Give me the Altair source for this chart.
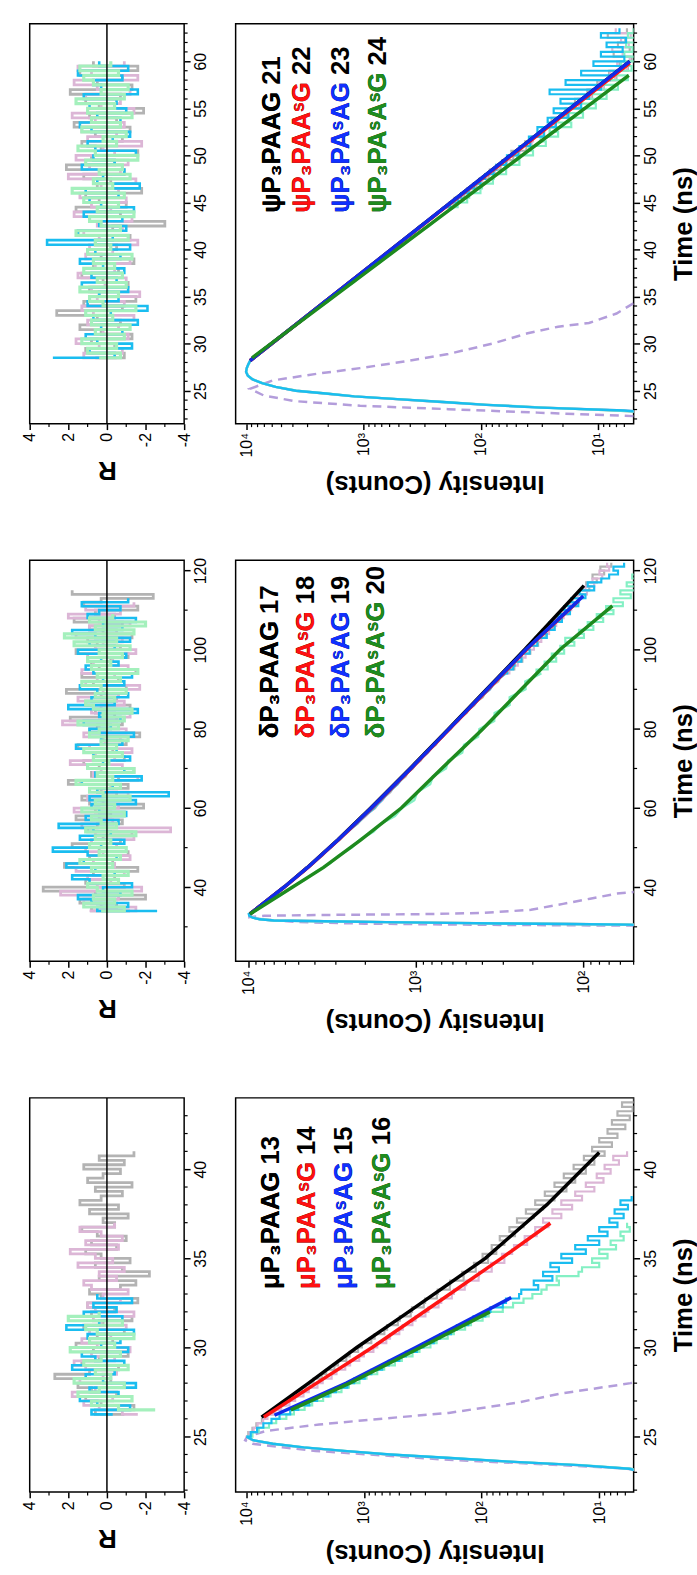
import altair as alt
import pandas as pd

FONT = "Liberation Sans, Arial, DejaVu Sans, sans-serif"
C_GRAY, C_PINK, C_CYAN, C_AQUA, C_MINT = "#b3b3b3", "#dcb6d6", "#1abdf0", "#84f0c4", "#a4f0bc"
C_IRF = "#b39ddb"
FIT_COLORS = ["#000000", "#ff1414", "#0f2bea", "#1e8a1e"]
LEG_COLORS = ["#000000", "#ff1010", "#1030ff", "#1e8c1e"]

# ---------------- psi panel (top) ----------------
psi_rise_t = [22.6, 22.9, 23.2, 23.5, 23.8, 24.1, 24.4, 24.7, 25.0, 25.4, 25.8, 26.2, 26.6, 27.0, 27.4, 27.8, 28.2]
psi_decay_t = [28.5 + i for i in range(17)] + [45.0 + 0.5 * i for i in range(38)]
psi_gray = [3, 7, 28, 88, 215, 530, 1210, 2150, 3800, 5650, 7350, 8850, 9700, 10050, 9900, 9600, 9250,
            8650, 6760, 5450, 4230, 3410, 2640, 2140, 1650, 1340, 1030, 838, 641, 528, 400, 331, 249, 208,
            172, 168, 139, 131, 109, 104, 86, 84, 68, 66, 53, 55, 41, 42, 37, 29, 30, 23, 25, 18.5, 19, 14.5,
            15.8, 11.3, 12.4, 9.0, 10.2, 7.0, 8.1, 5.6, 6.6, 5.2, 7.4, 5.4, 6.8, 5.9, 8.3, 5.7]
psi_pink = [3, 6, 30, 92, 220, 520, 1190, 2120, 3750, 5600, 7300, 8800, 9650, 10000, 9880, 9580, 9230,
            8580, 6850, 5370, 4300, 3360, 2690, 2090, 1690, 1300, 1060, 815, 665, 505, 418, 316, 262, 198,
            186, 155, 147, 123, 117, 97, 92, 76, 74, 60, 58, 47, 46, 37, 36, 30, 29, 23.5, 24, 18, 18.8, 14.6,
            14.8, 11.6, 11.9, 9.1, 9.8, 7.2, 7.9, 5.7, 6.9, 5.4, 6.2, 7.6, 5.5, 6.4, 5.3, 7.1]
psi_cyan = [3, 6, 31, 90, 210, 515, 1200, 2100, 3780, 5620, 7320, 8820, 9680, 10020, 9890, 9590, 9240,
            8640, 6790, 5420, 4250, 3400, 2650, 2130, 1660, 1330, 1040, 832, 648, 522, 404, 328, 252, 205,
            182, 157, 147, 127, 114, 101, 92, 78, 74, 61, 60, 48, 47, 38, 39, 29, 33, 23, 27, 18, 24, 14,
            21, 12, 26, 9.5, 19, 8.0, 14, 6.5, 11, 6.0, 9.5, 6.2, 8.5, 5.8, 9.5, 6.6]
psi_aqua = [3, 7, 29, 86, 205, 510, 1180, 2080, 3700, 5580, 7280, 8780, 9640, 9980, 9860, 9560, 9200,
            8860, 7020, 5400, 4300, 3290, 2630, 2000, 1620, 1220, 990, 745, 604, 455, 370, 277, 226, 169,
            158, 131, 126, 101, 98, 79, 78, 61, 62, 47, 49, 36, 39, 28, 31, 22, 26, 17, 22, 13.5, 18, 10.5,
            14, 8.5, 11, 6.8, 9, 5.6, 7, 5.2, 6.4, 4.9, 6.0, 5.1, 5.8, 4.8, 5.6, 5.0]
psi_irf_t = [22.3, 22.67, 23.04, 23.4, 23.9, 24.5, 25.2, 26.1, 26.8, 27.4, 28.1, 28.9, 30.0, 31.1, 31.8, 32.2, 33.2, 34.3]
psi_irf_v = [5, 33, 190, 1070, 3900, 7100, 9300, 5900, 2500, 1070, 450, 190, 80, 40, 22, 12, 7, 5]
psi_fit_t = [[28.2, 44.0, 60.0], [28.2, 44.0, 59.8], [28.2, 44.0, 60.0], [28.5, 43.5, 58.5]]
psi_fit_v = [[9250, 228, 5.4], [9250, 226, 5.4], [9250, 228, 5.4], [8910, 221, 5.5]]
psi_res_gray = [0.6, -0.9, 1.1, -0.4, 0.8, -1.3, 0.3, 1.4, -0.7, 0.5, 2.6, -0.8, 1.2, -1.5, 0.4, 0.9, -1.1, 0.2,
                1.3, -0.6, 0.7, -1.4, 0.3, 1.0, -0.5, 0.6, -1.2, 1.5, -0.3, -3.0, 0.9, -0.7, 1.6, -1.0, 0.4, 1.1,
                -1.8, 0.5, -0.2, 1.2, -0.9, 2.1, -0.4, 0.8, -1.6, 0.3, 1.3, -0.8, 0.6, -1.2, 1.7, -0.5, 0.9, -1.9,
                0.4, 1.1, -0.7, 1.9, -1.3, 0.5, -0.8, 1.4, -1.6, 0.7]
psi_res_pink = [-0.5, 1.2, -0.8, 0.4, 1.6, -1.1, 0.2, -0.6, 1.0, -1.4, 0.7, 1.3, -0.9, 0.5, -1.7, 0.8, 0.1, -1.0,
                1.5, -0.4, 0.6, -1.2, 1.1, -0.3, 0.9, -1.6, 0.4, 1.2, -0.8, 0.5, -1.3, 1.7, -0.2, 0.8, -1.0, 1.4,
                -0.6, 0.3, -1.5, 2.0, -0.7, 0.9, -1.1, 1.6, -0.4, 0.2, -1.8, 1.0, -0.5, 1.3, -0.9, 0.6, 1.8, -1.4,
                0.3, -0.7, 1.1, -1.2, 0.5, 1.7, -1.6, 0.8, 1.5, -0.9]
psi_res_cyan = [2.8, -0.4, 0.9, -1.3, 0.5, 1.1, -0.8, 0.3, -1.6, 0.7, -0.2, -2.1, 1.0, -0.6, 0.4, -1.1, 1.3, -0.5,
                0.8, -0.9, 0.2, 1.4, -0.7, 0.6, -1.2, 3.1, -0.3, 1.5, -1.0, 0.4, -0.8, 1.2, -1.4, 0.3, 0.9, -0.6,
                1.1, -1.7, 0.5, 0.2, -0.9, 1.3, -0.4, 0.7, -1.5, 0.6, 1.0, -0.3, -1.2, 0.8, 1.4, -0.7, 0.5, -1.0,
                0.9, -0.5, 1.2, -1.6, 0.3, 0.7, -0.8, 1.5, -1.1, 0.4]
psi_res_mint = [0.4, -0.7, 1.0, -0.5, 1.3, -0.9, 0.6, -1.2, 0.8, -0.3, 1.1, -1.5, 0.2, 0.9, -0.6, 1.4, -1.0, 0.5,
                -0.8, 1.2, -0.4, 0.7, -1.3, 1.0, -0.2, 0.6, -1.1, 1.6, -0.7, 0.3, 0.9, -1.4, 0.5, -0.6, 1.2, -0.9,
                1.8, -0.3, 0.7, -1.2, 0.4, -0.8, 1.1, -1.6, 0.6, 1.5, -0.5, 0.2, -1.0, 1.3, -0.7, 0.8, -1.3, 1.0,
                -0.4, 1.6, -0.9, 0.3, -1.1, 0.7, 1.2, -0.6, 1.4, -0.2]
psi_leg_full = ["ψP₃PAAG 21", "ψP₃PAAˢG 22", "ψP₃PAˢAG 23", "ψP₃PAˢAˢG 24"]
psi_leg_prefix = ["ψP₃PAAG", "ψP₃PAAˢG", "ψP₃PAˢAG", "ψP₃PAˢAˢG"]
psi_leg_I = [6030, 3310, 1550, 748]
psi_leg_t = 43.9

# ---------------- delta panel (middle) ----------------
del_rise_t = [30.2, 30.4, 30.55, 30.7, 30.85, 31.0, 31.2, 31.4, 31.6, 31.9, 32.3, 32.8, 33.25]
del_decay_t = [34 + 2 * i for i in range(31)] + [95 + i for i in range(28)]
del_gray = [35, 42, 52, 120, 300, 630, 1500, 3500, 7000, 8500, 9400, 9850, 9900,
            9330, 8040, 7110, 6090, 5400, 4640, 4150, 3610, 3270, 2840, 2590, 2230, 2030, 1750, 1620, 1420,
            1320, 1150, 1080, 935, 878, 758, 712, 618, 578, 497, 468, 398, 376, 322, 305,
            288, 258, 260, 231, 233, 207, 210, 186, 191, 168, 172, 152, 157, 137, 142, 124, 129, 111, 116,
            101, 106, 92, 96, 83, 88, 75, 79, 68]
del_pink = [34, 41, 50, 115, 290, 610, 1480, 3450, 6900, 8450, 9350, 9800, 9880,
            9250, 8120, 7020, 6180, 5330, 4700, 4080, 3670, 3220, 2890, 2530, 2270, 1980, 1790, 1580, 1460,
            1280, 1190, 1040, 968, 845, 785, 688, 640, 556, 515, 447, 414, 360, 335, 290,
            276, 270, 246, 244, 221, 218, 197, 197, 178, 179, 160, 162, 145, 147, 131, 133, 118, 120, 106,
            108, 95, 97, 86, 88, 77, 80, 70, 72]
del_cyan = [36, 44, 55, 125, 310, 650, 1520, 3550, 7050, 8550, 9420, 9870, 9920,
            9300, 8100, 7050, 6160, 5350, 4690, 4100, 3660, 3230, 2880, 2560, 2250, 2010, 1780, 1600, 1450,
            1290, 1180, 1050, 960, 850, 780, 695, 635, 560, 512, 450, 412, 362, 333, 292,
            284, 262, 257, 234, 236, 209, 214, 188, 194, 165, 175, 148, 159, 134, 141, 120, 130, 107, 118,
            97, 105, 86, 94, 78, 70, 62, 66, 57]
del_aqua = [35, 43, 51, 118, 295, 620, 1490, 3480, 6950, 8480, 9380, 9830, 9890,
            9100, 7780, 6430, 5510, 4540, 3920, 3260, 2880, 2410, 2160, 1790, 1620, 1330, 1210, 1020, 980,
            820, 790, 660, 640, 528, 515, 424, 417, 340, 338, 275, 275, 221, 222, 178,
            190, 163, 170, 145, 154, 130, 137, 113, 128, 99, 106, 87, 94, 76, 83, 66, 73, 58, 66,
            52, 60, 48, 55, 45, 51, 42, 49, 41]
del_irf_t = [30.0, 30.3, 30.5, 30.8, 31.2, 31.8, 32.4, 32.8, 33.0, 33.2, 33.5, 34.3, 35.8, 37.1, 38.4, 38.8, 39.4]
del_irf_v = [40, 50, 400, 2000, 5000, 8000, 10000, 8000, 3500, 900, 400, 205, 132, 91, 63, 50, 45]
del_fit_t = [[33.25, 40, 45, 52, 60, 70, 80, 90, 100, 116.2], [33.25, 40, 45, 52, 60, 70, 80, 90, 100, 112.3],
             [33.25, 40, 45, 52, 60, 70, 80, 90, 100, 113.6], [33.25, 40, 45, 52, 60, 70, 80, 90, 100, 111.1]]
del_fit_v = [[9770, 6124, 4436, 2917, 1858, 1081, 637, 377, 224, 99],
             [9770, 6100, 4400, 2890, 1830, 1065, 627, 370, 219, 107],
             [9770, 6115, 4420, 2905, 1845, 1073, 632, 374, 221, 100],
             [9770, 5460, 3550, 2120, 1220, 700, 398, 234, 138, 67]]
del_res_gray = [-1.2, 0.8, -0.5, 1.4, -2.0, 0.6, 3.3, -0.9, 1.1, -0.4, 0.7, -1.6, 2.2, -0.3, 0.9, -1.1, 0.4, 1.8,
                -0.7, 0.2, -1.3, 1.0, 0.5, -0.8, 1.6, -0.2, 0.6, -1.9, 0.9, 1.3, -0.5, 0.3, -1.1, 2.0, -0.6, 0.8,
                -1.4, 0.4, 1.2, -0.9, 0.7, -0.3, 1.5, -1.0, 0.2, -1.7, 0.9, 0.5, -0.8, 1.9, -0.4, 0.6, -1.2, 1.1,
                -0.5, 0.3, 2.1, -1.0, 0.7, -0.6, 1.3, -1.5, 0.4, 0.8, -0.2, -1.1, 1.6, -0.7, 0.5, 1.0, -1.3, 0.2,
                0.9, -0.8, 1.7, -0.4, 0.6, -1.6, 1.2, 0.3, -2.4, 1.8]
del_res_pink = [0.9, -1.5, 0.3, 1.2, -0.6, 2.4, -1.8, 0.5, -0.2, 1.0, -0.9, 1.6, -0.4, 0.7, -1.2, 0.2, 1.1, -0.5,
                0.8, -1.4, 0.6, -3.3, 1.3, -0.3, 0.4, -0.9, 1.7, -0.6, 0.2, 1.0, -1.1, 0.5, -0.2, 1.4, -1.6, 0.7,
                0.3, -0.8, 1.9, -0.4, 0.6, -1.3, 0.9, 0.1, -0.7, 1.2, -1.0, 0.4, 2.3, -0.5, -1.2, 0.8, 0.3, -0.9,
                1.5, -0.6, 0.2, -1.7, 1.1, 0.5, -0.4, 1.3, -1.1, 0.7, -0.3, 1.0, -1.5, 0.6, 0.2, -0.8, 1.6, -0.5,
                0.9, -1.2, 0.4, 2.0, -0.7, 1.1, -1.4]
del_res_cyan = [-2.6, 0.5, -1.1, 0.8, 1.5, -0.7, 0.2, -1.3, 0.9, 1.8, -0.4, 0.6, 2.1, 1.2, -0.5, 1.0, 2.8, 0.3,
                -0.9, 1.4, -0.2, 0.7, 2.5, -0.6, 1.1, -1.0, 0.4, 0.8, -1.5, 0.9, -3.2, 0.5, -0.3, 1.3, -1.8, 0.6,
                -0.9, 1.0, 0.2, -1.2, 0.7, -0.5, 1.6, -0.8, 0.3, -1.4, 0.9, -0.2, 1.2, -0.7, 0.4, -1.6, 2.0, -0.4,
                0.8, -1.1, 0.5, 1.4, -0.9, 0.2, -1.3, 0.7, 1.1, -0.6, 0.3, -1.0, 1.5, -0.4, 0.9, -1.2, 0.6, 1.8,
                -0.8, 0.2, -1.5, 1.0, 0.4, -0.7, 1.3, -1.1]
del_res_mint = [0.3, -0.9, 1.2, -0.4, 0.7, -1.3, 0.5, 1.0, -0.6, 0.2, -1.1, 0.8, -0.3, 1.4, -0.7, 0.4, -1.0, 0.9,
                -0.2, 0.6, -1.5, 1.1, -0.5, 0.3, 0.8, -0.9, 1.3, -0.4, 0.6, -1.2, 0.2, 0.9, -0.7, 1.6, -0.3, 0.5,
                -1.4, 1.0, -0.1, 0.7, -0.8, 1.2, -0.5, 0.3, -1.1, 0.9, 0.4, -0.6, 1.5, -0.9, 0.2, -1.3, 0.7, 1.1,
                -0.4, 0.6, -1.0, 0.3, 1.3, -0.7, 0.5, -1.6, 0.8, -0.2, 1.0, -0.8, 0.4, -1.2, 1.7, -0.5, 2.2, -1.4,
                0.6, -2.0, 0.9, -0.3]
del_leg_full = ["δP₃PAAG 17", "δP₃PAAˢG 18", "δP₃PAˢAG 19", "δP₃PAˢAˢG 20"]
del_leg_prefix = ["δP₃PAAG", "δP₃PAAˢG", "δP₃PAˢAG", "δP₃PAˢAˢG"]
del_leg_I = [7430, 4500, 2800, 1720]
del_leg_t = 77.65

# ---------------- mu panel (bottom) ----------------
mu_rise_t = [22.8, 23.0, 23.2, 23.4, 23.6, 23.8, 24.0, 24.2, 24.4, 24.6, 24.8, 25.0]
mu_gray_rise = [3, 4, 5.5, 15, 60, 190, 620, 1500, 3300, 6000, 8800, 10000]
mu_pink_rise = [3, 4, 5.8, 16, 62, 200, 640, 1550, 3350, 6100, 8850, 10100]
mu_cyan_rise = [3, 4.2, 5.6, 15, 58, 185, 600, 1480, 3250, 5950, 8750, 9950]
mu_aqua_rise = [3, 4.1, 5.4, 14, 57, 180, 590, 1460, 3200, 5900, 8700, 9900]
mu_gray = [9600, 8850, 8200, 7350, 6680, 5820, 5310, 4620, 4230, 3670, 3360, 2900, 2680, 2280, 2090, 1780, 1660,
           1410, 1320, 1120, 1040, 865, 810, 670, 635, 515, 495, 400, 390, 310, 302, 240, 236, 186, 185, 142,
           146, 112, 116, 88, 98, 75, 82, 64, 70, 52, 58, 44, 50, 36, 42, 30, 35, 24, 29, 19, 24, 16, 20, 13,
           16.5, 11, 13.5, 9, 11.5, 7.8, 10, 7, 8.5, 6, 7.8, 5.5, 7, 5.2, 6.4, 5.0]
mu_pink = [9380, 8650, 8010, 7180, 6600, 5640, 5040, 4290, 3840, 3260, 2940, 2480, 2240, 1880, 1710, 1440, 1310,
           1095, 1000, 830, 770, 645, 600, 500, 467, 387, 364, 300, 283, 232, 220, 179, 172, 139, 135, 106, 105,
           82, 83, 64, 67, 55, 53, 41, 43, 34, 35, 27, 30, 21, 25, 17, 21, 14, 16, 11, 13, 9.2, 10.5, 8, 9, 6.8,
           7.6, 5.8]
mu_cyan = [9150, 8080, 7150, 6100, 5210, 4230, 3610, 2910, 2500, 2000, 1730, 1380, 1210, 985, 865, 700, 615, 500,
           440, 355, 312, 255, 225, 182, 162, 130, 117, 93, 84, 66, 62, 48, 46, 33, 36, 25, 30, 22, 26, 17, 21,
           13, 16, 10, 12.5, 8.5, 10, 7, 8.2, 6.2, 7.4, 5.7, 6.6, 5.3]
mu_aqua = [8850, 7820, 6400, 5560, 4560, 3930, 3190, 2750, 2220, 1920, 1550, 1340, 1090, 950, 770, 672, 545, 476,
           386, 337, 272, 241, 194, 172, 138, 123, 98, 87, 66, 54, 44, 37, 31, 28, 22, 23, 15, 14, 10, 11.5, 8.5,
           10, 7.2, 8, 6.2, 6.6, 5.5, 5.8]
mu_irf_t = [22.9, 23.2, 23.45, 23.7, 24.0, 24.2, 24.4, 24.6, 24.8, 25.0, 25.32, 25.68, 25.96, 26.33, 26.9, 27.4, 28.0, 28.3]
mu_irf_v = [3, 5.4, 30, 190, 900, 2570, 4900, 8800, 10200, 9800, 6800, 2400, 850, 190, 50, 22, 5.4, 4]
mu_fit_t = [[26.1, 28, 30, 32, 35, 38, 40.94], [26.1, 28, 30, 33, 35, 36.97], [26.2, 28, 30, 32.8], [26.5, 28, 30, 32.0]]
mu_fit_v = [[7410, 2950, 1150, 417, 93, 28, 10], [7080, 2520, 851, 186, 68, 26], [5750, 1410, 363, 56], [4170, 1320, 331, 85]]
mu_res_gray = [-0.9, 0.6, -1.4, 0.3, 1.1, -0.5, 0.8, 1.5, -0.2, 2.7, 0.9, -0.6, 1.3, 0.4, -1.1, 0.7, 1.6, -0.3, 0.5,
               -0.9, 1.2, 0.2, -1.3, 0.8, -0.4, 1.0, -1.6, 0.3, 0.9, -0.7, -1.5, 0.4, -2.2, -0.8, 0.6, -1.2, 0.3, 1.1,
               -0.5, 0.8, -1.0, 0.5, 1.3, -0.4, 0.2, -1.1, 0.9, -0.6, 1.4, 0.3, -0.8, 0.6, -1.3, 1.0, 0.2, -0.7, 1.2,
               -0.9, 0.4, -1.4]
mu_res_pink = [-1.6, -0.8, 0.4, 1.2, -0.3, 1.8, 0.6, -0.9, 1.4, 0.2, -0.5, 1.1, 1.7, -0.4, 0.8, -1.2, 0.5, 1.3, -0.2,
               0.9, -1.0, 0.3, 0.7, -1.4, 0.6, 1.0, -0.7, 0.2, -1.1, 0.8, 1.2, -0.5, 0.4, -0.9, 1.5, -0.3, 0.6, 1.9,
               -0.6, 1.1, -0.8, 0.3, 1.4, -0.4]
mu_res_cyan = [-0.3, 0.8, -1.2, 0.5, 1.4, -0.6, 0.9, -1.5, 0.2, 1.1, -0.4, 1.8, -0.9, 0.6, 1.3, -1.1, 0.3, -0.7, 1.0,
               -1.4, 2.1, 0.4, -0.8, 1.2, -0.5, 0.7, -1.3, 0.5]
mu_res_mint = [-2.5, -0.6, 0.8, -1.3, 1.5, 0.4, -0.9, 1.7, -0.2, 0.6, -1.1, 1.2, 0.3, -0.7, 1.9, -0.4, 0.9, -1.4, 0.5,
               1.1, -0.8, 2.0, 0.4]
mu_leg_full = ["μP₃PAAG 13", "μP₃PAAˢG 14", "μP₃PAˢAG 15", "μP₃PAˢAˢG 16"]
mu_leg_prefix = ["μP₃PAAG", "μP₃PAAˢG", "μP₃PAˢAG", "μP₃PAˢAˢG"]
mu_leg_I = [6160, 3010, 1470, 706]
mu_leg_t = 33.28

R_MAJOR = [-4, -2, 0, 2, 4]
R_MINOR = [-3, -1, 1, 3]
LOG_MINOR = [6, 7, 8, 9, 20, 30, 40, 50, 60, 70, 80, 90, 200, 300, 400, 500, 600, 700, 800, 900,
             2000, 3000, 4000, 5000, 6000, 7000, 8000, 9000]

DEC_W, RES_W = 402, 156
MAJOR_TICK, MINOR_TICK = 6, 3.5


def frame(t, v):
    assert len(t) == len(v), (len(t), len(v))
    return pd.DataFrame({"t": t, "v": v})


def y_axis(values, title):
    kw = dict(orient="right", values=values, tickCount=100, format="d", tickSize=MAJOR_TICK, tickWidth=1.5,
              tickColor="black", labelAngle=270, labelAlign="center", labelBaseline="top", labelPadding=3,
              labelFontSize=16, labelFont=FONT, labelColor="black", labelFlush=False, labelOverlap=False,
              domain=False, grid=False)
    if title:
        kw.update(title=title, titleAngle=270, titleBaseline="top", titlePadding=12, titleFontSize=26,
                  titleFontWeight="bold", titleFont=FONT, titleColor="black")
    else:
        kw["title"] = None
    return alt.Axis(**kw)


def x_axis(values, title, label_expr, tpad):
    return alt.Axis(orient="bottom", values=values, tickCount=100, tickSize=MAJOR_TICK, tickWidth=1.5,
                    tickColor="black", labelAngle=270, labelAlign="right", labelBaseline="middle", labelPadding=3,
                    labelFontSize=16, labelFont=FONT, labelColor="black", labelFlush=False,
                    labelOverlap=False, labelExpr=label_expr, domain=False, grid=False,
                    title=title, titleAngle=180, titleBaseline="bottom", titlePadding=tpad,
                    titleFontSize=26, titleFontWeight="bold", titleFont=FONT, titleColor="black")


POW_EXPR = ("datum.value > 9000 ? '10⁴' : datum.value > 900 ? '10³' : "
            "datum.value > 90 ? '10²' : '10¹'")
R_EXPR = "datum.value < 0 ? '-' + abs(datum.value) : '' + datum.value"


def minor_ticks(xs, ys, xfield, x_minor, t_minor, w, h):
    """Short outward tick marks drawn at minor positions through the panel scales."""
    tdf = pd.DataFrame({"t": t_minor})
    xdf = pd.DataFrame({xfield: x_minor})
    right = alt.Chart(tdf).mark_rule(color="black", strokeWidth=1.2).encode(
        y=alt.Y("t:Q", scale=ys), x=alt.value(w), x2=alt.value(w + MINOR_TICK))
    bottom = alt.Chart(xdf).mark_rule(color="black", strokeWidth=1.2).encode(
        x=alt.X(f"{xfield}:Q", scale=xs), y=alt.value(h), y2=alt.value(h + MINOR_TICK))
    return [right, bottom]


def decay_panel(h, tdom, idom, t_major, t_minor, i_major, irf, traces, fits, leg):
    xs = alt.Scale(type="log", domain=idom, reverse=True, nice=False)
    ys = alt.Scale(domain=tdom, nice=False, zero=False)
    X0 = alt.X("v:Q", scale=xs)
    Y0 = alt.Y("t:Q", scale=ys)
    layers = [alt.Chart(irf).mark_line(color=C_IRF, strokeWidth=2.5, strokeDash=[9, 6], clip=True).encode(
        x=alt.X("v:Q", scale=xs, axis=x_axis(i_major, "Intensity (Counts)", POW_EXPR, 14)),
        y=alt.Y("t:Q", scale=ys, axis=y_axis(t_major, "Time (ns)")),
        order="t:Q")]
    for df, col, split in traces:
        smooth = df.iloc[:split + 1]
        noisy = df.iloc[split:]
        layers.append(alt.Chart(smooth).mark_line(color=col, strokeWidth=2.4, clip=True).encode(
            x=X0, y=Y0, order="t:Q"))
        layers.append(alt.Chart(noisy).mark_line(color=col, strokeWidth=2.2, interpolate="step-after",
                                                 clip=True).encode(x=X0, y=Y0, order="t:Q"))
    for df, col in fits:
        layers.append(alt.Chart(df).mark_line(color=col, strokeWidth=3.5, clip=True).encode(
            x=X0, y=Y0, order="t:Q"))
    txt = dict(angle=270, align="left", baseline="middle", font=FONT, fontSize=26, fontWeight="bold")
    layers.append(alt.Chart(leg).mark_text(**txt, color="black").encode(x=X0, y=Y0, text="full:N"))
    layers.append(alt.Chart(leg).mark_text(**txt).encode(
        x=X0, y=Y0, text="prefix:N", color=alt.Color("col:N", scale=None)))
    i_minor = [v for v in LOG_MINOR if idom[0] <= v <= idom[1]]
    layers += minor_ticks(xs, ys, "v", i_minor, t_minor, DEC_W, h)
    return alt.layer(*layers).properties(width=DEC_W, height=h)


def res_panel(h, tdom, t_major, t_minor, traces):
    xs = alt.Scale(domain=[-4, 4], reverse=True, nice=False, zero=False)
    ys = alt.Scale(domain=tdom, nice=False, zero=False)
    layers = []
    for k, (df, col, sw) in enumerate(traces):
        if k == 0:
            xa = alt.X("r:Q", scale=xs, axis=x_axis(R_MAJOR, "R", R_EXPR, 10))
            ya = alt.Y("t:Q", scale=ys, axis=y_axis(t_major, None))
        else:
            xa = alt.X("r:Q", scale=xs)
            ya = alt.Y("t:Q", scale=ys)
        layers.append(alt.Chart(df).mark_line(color=col, strokeWidth=sw, interpolate="step-after",
                                              clip=True).encode(x=xa, y=ya, order="t:Q"))
    layers.append(alt.Chart(pd.DataFrame({"r": [0]})).mark_rule(color="black", strokeWidth=1.5).encode(
        x=alt.X("r:Q", scale=xs)))
    layers += minor_ticks(xs, ys, "r", R_MINOR, t_minor, RES_W, h)
    return alt.layer(*layers).properties(width=RES_W, height=h)


def rdf(t0, dt, vals):
    return pd.DataFrame({"t": [t0 + dt * i for i in range(len(vals))], "r": vals})


def legdf(full, prefix, ivals, t):
    return pd.DataFrame({"v": ivals, "t": [t] * 4, "full": full, "prefix": prefix, "col": LEG_COLORS})


# ---- psi row
psi_tdom = [21.5, 64.0]
psi_major = [25, 30, 35, 40, 45, 50, 55, 60]
psi_minor = [v for v in range(22, 65) if v % 5 != 0]
psi_t_all = psi_rise_t + psi_decay_t
PSI_SPLIT = 33
psi_res = res_panel(404, psi_tdom, psi_major, psi_minor, [
    (rdf(28.5, 0.5, psi_res_gray), C_GRAY, 2.8), (rdf(28.5, 0.5, psi_res_pink), C_PINK, 2.8),
    (rdf(28.5, 0.5, psi_res_cyan), C_CYAN, 2.6), (rdf(28.5, 0.5, psi_res_mint), C_MINT, 3.2)])
psi_dec = decay_panel(404, psi_tdom, [5.0, 12300], psi_major, psi_minor, [10, 100, 1000, 10000],
                      frame(psi_irf_t, psi_irf_v),
                      [(frame(psi_t_all, psi_gray), C_GRAY, PSI_SPLIT), (frame(psi_t_all, psi_pink), C_PINK, PSI_SPLIT),
                       (frame(psi_t_all, psi_aqua), C_AQUA, PSI_SPLIT), (frame(psi_t_all, psi_cyan), C_CYAN, PSI_SPLIT)],
                      [(frame(t, v), c) for t, v, c in zip(psi_fit_t, psi_fit_v, FIT_COLORS)],
                      legdf(psi_leg_full, psi_leg_prefix, psi_leg_I, psi_leg_t))

# ---- delta row
del_tdom = [21.3, 122.6]
del_major = [40, 60, 80, 100, 120]
del_minor = [30, 50, 70, 90, 110]
del_t_all = del_rise_t + del_decay_t
DEL_SPLIT = 43
del_res = res_panel(405, del_tdom, del_major, del_minor, [
    (rdf(34, 1, del_res_gray), C_GRAY, 2.8), (rdf(34, 1, del_res_pink), C_PINK, 2.8),
    (rdf(34, 1, del_res_cyan), C_CYAN, 2.6), (rdf(34, 1, del_res_mint), C_MINT, 3.2)])
del_dec = decay_panel(405, del_tdom, [50, 11900], del_major, del_minor, [100, 1000, 10000],
                      frame(del_irf_t, del_irf_v),
                      [(frame(del_t_all, del_gray), C_GRAY, DEL_SPLIT), (frame(del_t_all, del_pink), C_PINK, DEL_SPLIT),
                       (frame(del_t_all, del_aqua), C_AQUA, DEL_SPLIT), (frame(del_t_all, del_cyan), C_CYAN, DEL_SPLIT)],
                      [(frame(t, v), c) for t, v, c in zip(del_fit_t, del_fit_v, FIT_COLORS)],
                      legdf(del_leg_full, del_leg_prefix, del_leg_I, del_leg_t))

# ---- mu row
mu_tdom = [21.9, 44.0]
mu_major = [25, 30, 35, 40]
mu_minor = [v for v in range(22, 44) if v % 5 != 0]
MU_SPLIT = len(mu_rise_t) - 1


def mu_series(rise, decay):
    return frame(mu_rise_t + [25.25 + 0.25 * i for i in range(len(decay))], rise + decay)


mu_res = res_panel(398, mu_tdom, mu_major, mu_minor, [
    (rdf(26.25, 0.25, mu_res_gray), C_GRAY, 2.8), (rdf(26.25, 0.25, mu_res_pink), C_PINK, 2.8),
    (rdf(26.25, 0.25, mu_res_cyan), C_CYAN, 2.6), (rdf(26.5, 0.25, mu_res_mint), C_MINT, 3.2)])
mu_dec = decay_panel(398, mu_tdom, [5.1, 12300], mu_major, mu_minor, [10, 100, 1000, 10000],
                     frame(mu_irf_t, mu_irf_v),
                     [(mu_series(mu_gray_rise, mu_gray), C_GRAY, MU_SPLIT), (mu_series(mu_pink_rise, mu_pink), C_PINK, MU_SPLIT),
                      (mu_series(mu_aqua_rise, mu_aqua), C_AQUA, MU_SPLIT), (mu_series(mu_cyan_rise, mu_cyan), C_CYAN, MU_SPLIT)],
                     [(frame(t, v), c) for t, v, c in zip(mu_fit_t, mu_fit_v, FIT_COLORS)],
                     legdf(mu_leg_full, mu_leg_prefix, mu_leg_I, mu_leg_t))

chart = alt.concat(psi_res, psi_dec, del_res, del_dec, mu_res, mu_dec, columns=2,
                   spacing={"row": 138, "column": 52}, bounds="flush", align="each").properties(
    padding={"left": 21, "top": 14, "right": 0, "bottom": 0}
).configure_view(stroke="black", strokeWidth=1.5).configure_axis(grid=False)

chart.save("out.html", embed_options={"renderer": "svg", "actions": False})
